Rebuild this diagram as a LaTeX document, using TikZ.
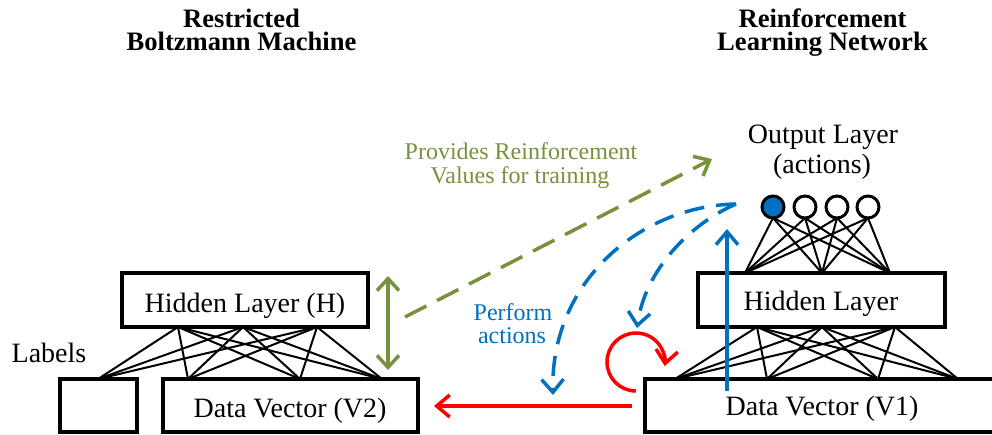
\documentclass[tikz,border=0pt]{standalone}
\usepackage{fontspec}
\setmainfont{Liberation Serif}
\usetikzlibrary{arrows.meta,calc}
\definecolor{rlgreen}{RGB}{118,146,60}
\definecolor{rlblue}{RGB}{0,112,192}
\definecolor{rlred}{RGB}{255,0,0}

\begin{document}
\begin{tikzpicture}[x=1pt,y=-1pt,
  layerbox/.style={draw=black, line width=3.5pt, rectangle, inner sep=0pt},
  boxtext/.style={font=\fontsize{28}{30}\selectfont, anchor=base, inner sep=0pt},
  heading/.style={font=\bfseries\fontsize{26.6}{23}\selectfont, align=center, anchor=north, inner sep=0pt},
  note/.style={font=\fontsize{24}{26}\selectfont, anchor=base, inner sep=0pt},
  wire/.style={line width=2pt, black},
  neuron/.style={circle, draw=black, line width=3pt, minimum size=22pt, inner sep=0pt, fill=white},
  tipbarb/.style={Straight Barb[length=13pt, width=22pt]},
  barb/.style={-{Straight Barb[length=13pt, width=22pt]}},
  greenlink/.style={rlgreen, line width=3.5pt},
  bluelink/.style={rlblue, line width=3.5pt},
  redlink/.style={rlred, line width=3.5pt},
]
\useasboundingbox (0,0) rectangle (992,434);
\clip (0,0) rectangle (992,434);

% ---------- headings ----------
\node[heading] (rbm) at (241.5,9) {Restricted\\Boltzmann Machine};
\node[heading] (rln) at (822.5,9) {Reinforcement\\Learning Network};

% ---------- restricted Boltzmann machine ----------
\node[layerbox, minimum width=246pt, minimum height=54pt] (hidH) at (245,300) {};
\node[boxtext] (hidHtxt) at (245,312) {Hidden Layer (H)};
\node[layerbox, minimum width=77pt, minimum height=53pt] (lab) at (98.5,405.5) {};
\node[boxtext] (labtxt) at (49,362) {Labels};
\node[layerbox, minimum width=255pt, minimum height=53pt] (v2) at (290.5,405.5) {};
\node[boxtext] (v2txt) at (290,417) {Data Vector (V2)};

\coordinate (ht1) at (178,327);
\coordinate (ht2) at (243,327);
\coordinate (ht3) at (317,327);
\coordinate (vb1) at (98,379);
\coordinate (vb2) at (188,379);
\coordinate (vb3) at (300,379);
\coordinate (vb4) at (382,379);
\foreach \a in {ht1,ht2,ht3}
  \foreach \b in {vb1,vb2,vb3,vb4}
    \draw[wire] (\a) -- (\b);

% ---------- reinforcement learning network ----------
\node[boxtext] (outtxt1) at (823,143) {Output Layer};
\node[boxtext] (outtxt2) at (822,173) {(actions)};

\node[layerbox, minimum width=247pt, minimum height=54pt] (hidR) at (821.5,300) {};
\node[boxtext] (hidRtxt) at (821,310) {Hidden Layer};
\node[layerbox, minimum width=365pt, minimum height=53pt] (v1) at (827.5,405.5) {};
\node[boxtext] (v1txt) at (822,415) {Data Vector (V1)};

\coordinate (rt1) at (745,273);
\coordinate (rt2) at (822,273);
\coordinate (rt3) at (890,273);
\coordinate (rb1) at (757,327);
\coordinate (rb2) at (822,327);
\coordinate (rb3) at (895,327);
\coordinate (d1) at (675,379);
\coordinate (d2) at (767,379);
\coordinate (d3) at (878,379);
\coordinate (d4) at (958,379);

\foreach \a in {rb1,rb2,rb3}
  \foreach \b in {d1,d2,d3,d4}
    \draw[wire] (\a) -- (\b);

\coordinate (o1w) at (773,218);
\coordinate (o2w) at (805,218);
\coordinate (o3w) at (837,218);
\coordinate (o4w) at (868,218);
\foreach \a in {o1w,o2w,o3w,o4w}
  \foreach \b in {rt1,rt2,rt3}
    \draw[wire] (\a) -- (\b);

\node[neuron, fill=rlblue] (o1) at (773,207) {};
\node[neuron] (o2) at (805,207) {};
\node[neuron] (o3) at (837,207) {};
\node[neuron] (o4) at (868,207) {};

% ---------- feedback links ----------
% RBM hidden <-> visible
\coordinate (gtop) at (388,276);
\coordinate (gbot) at (388,370);
\draw[greenlink, {Straight Barb[length=12pt, width=22pt]}-{Straight Barb[length=12pt, width=22pt]}] (gbot) -- (gtop);

% reinforcement values
\coordinate (gfrom) at (405,317);
\coordinate (gto) at (712,159);
\draw[greenlink, barb, dash pattern=on 24pt off 12pt] (gfrom) -- (gto);
\node[note, text=rlgreen] (gtxt1) at (521,159) {Provides Reinforcement};
\node[note, text=rlgreen] (gtxt2) at (520,183) {Values for training};

% actions performed on both data vectors
\coordinate (act) at (736,204);
\coordinate (actL) at (553,395);
\coordinate (actR) at (637,328);
\draw[bluelink, barb, dash pattern=on 20pt off 12pt]
  (act) .. controls (640,206) and (550,282) .. (actL);
\draw[bluelink, barb, dash pattern=on 20pt off 12pt]
  (act) .. controls (690,224) and (645,270) .. (actR);
\node[note, text=rlblue] (btxt1) at (513,320) {Perform};
\node[note, text=rlblue] (btxt2) at (512,343) {actions};

% forward pass through the RL network
\coordinate (upfrom) at (727,391);
\coordinate (upto) at (727,229);
\draw[bluelink, barb] (upfrom) -- (upto);

% copy of the data vector
\coordinate (rfrom) at (632,406);
\coordinate (rto) at (434,406);
\draw[redlink, barb] (rfrom) -- (rto);

% update loop
\coordinate (loop) at (636,391);
\draw[redlink, barb] (loop) arc[start angle=90, end angle=368, radius=29];
\end{tikzpicture}
\end{document}
